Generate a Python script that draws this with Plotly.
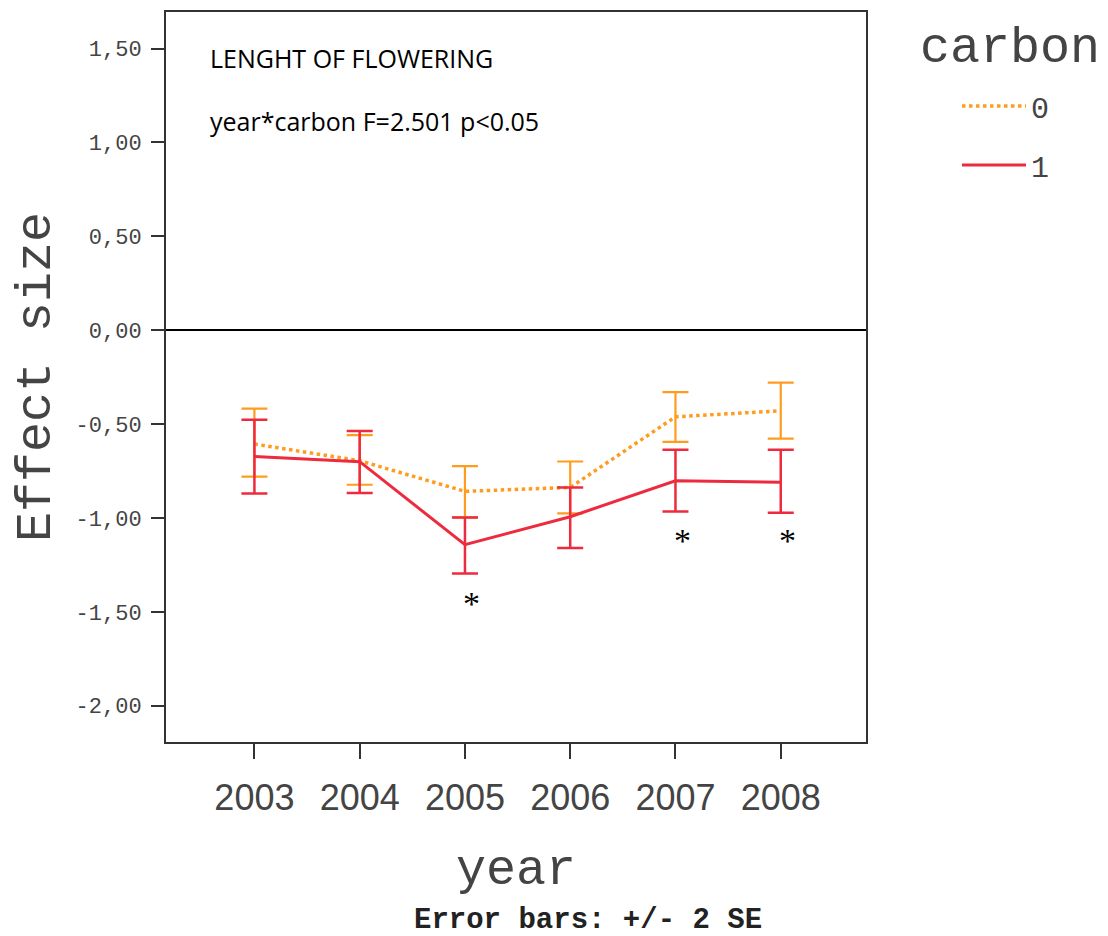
import plotly.graph_objects as go

years = ["2003", "2004", "2005", "2006", "2007", "2008"]
xpos = list(range(len(years)))

# carbon = 0 (orange, dotted)
c0_mean = [-0.606, -0.695, -0.858, -0.837, -0.461, -0.429]
c0_upper = [-0.417, -0.559, -0.724, -0.699, -0.330, -0.279]
c0_lower = [-0.780, -0.823, -0.997, -0.975, -0.594, -0.577]

# carbon = 1 (red, solid)
c1_mean = [-0.672, -0.700, -1.142, -0.993, -0.802, -0.810]
c1_upper = [-0.477, -0.536, -0.997, -0.837, -0.637, -0.637]
c1_lower = [-0.869, -0.867, -1.295, -1.160, -0.965, -0.972]

star_years = ["2005", "2007", "2008"]
star_y = [-1.449, -1.112, -1.112]

y_tickvals = [1.5, 1.0, 0.5, 0.0, -0.5, -1.0, -1.5, -2.0]
y_ticktext = ["1,50", "1,00", "0,50", "0,00", "-0,50", "-1,00", "-1,50", "-2,00"]

ORANGE = "#FF9C1F"
RED = "#EE2B3E"

fig = go.Figure()

fig.add_trace(go.Scatter(
    x=xpos, y=c0_mean, mode="lines", name="0",
    legendgroup="g0",
    line=dict(color=ORANGE, width=3.5, dash="dot"),
    error_y=dict(type="data", symmetric=False,
                 array=[u - m for u, m in zip(c0_upper, c0_mean)],
                 arrayminus=[m - l for m, l in zip(c0_mean, c0_lower)],
                 color=ORANGE, thickness=2.2, width=13),
))
fig.add_trace(go.Scatter(
    x=xpos, y=c1_mean, mode="lines", name="1",
    legendgroup="g1",
    line=dict(color=RED, width=3),
    error_y=dict(type="data", symmetric=False,
                 array=[u - m for u, m in zip(c1_upper, c1_mean)],
                 arrayminus=[m - l for m, l in zip(c1_mean, c1_lower)],
                 color=RED, thickness=2.5, width=13),
))

for sx, sy in zip(star_years, star_y):
    fig.add_annotation(x=years.index(sx), y=sy, text="*", showarrow=False, xshift=7, yshift=-1,
                       font=dict(family="Liberation Serif", size=34, color="black"))

fig.add_annotation(xref="paper", yref="paper", x=0.06, y=0.937, xanchor="left", yanchor="middle",
                   text="LENGHT OF FLOWERING", showarrow=False,
                   font=dict(family="Open Sans", size=25, color="black"))
fig.add_annotation(xref="paper", yref="paper", x=0.06, y=0.851, xanchor="left", yanchor="middle",
                   text="year*carbon F=2.501 p<0.05", showarrow=False,
                   font=dict(family="Open Sans", size=25, color="black"))

fig.add_annotation(xref="paper", yref="paper", x=1.074, y=0.95, xanchor="left", yanchor="middle",
                   text="carbon", showarrow=False,
                   font=dict(family="Liberation Mono", size=50, color="#444"))

fig.add_annotation(xref="paper", yref="paper", x=0.603, y=-0.244, xanchor="center", yanchor="middle",
                   text="<b>Error bars: +/- 2 SE</b>", showarrow=False,
                   font=dict(family="Liberation Mono", size=29, color="#222"))

fig.update_layout(
    width=1100, height=928,
    margin=dict(l=158, r=242, t=2, b=194),
    plot_bgcolor="white", paper_bgcolor="white",
    showlegend=True,
    legend=dict(x=1.13, y=0.907, xanchor="left", yanchor="top",
                font=dict(family="Liberation Mono", size=30, color="#444"),
                traceorder="grouped", tracegroupgap=17, itemwidth=64,
                bgcolor="rgba(0,0,0,0)"),
)

fig.update_xaxes(
    range=[-0.84, 5.81],
    tickvals=xpos, ticktext=years,
    showline=True, linecolor="#333", linewidth=2, mirror=True,
    ticks="outside", ticklen=15, tickwidth=2, tickcolor="#333",
    tickfont=dict(family="Liberation Sans", size=36, color="#444"),
    ticklabelstandoff=8,
    showgrid=False, zeroline=False,
    title=dict(text="year", font=dict(family="Liberation Mono", size=50, color="#444"), standoff=32),
)
fig.update_yaxes(
    range=[-2.193, 1.695],
    tickvals=y_tickvals, ticktext=y_ticktext,
    showline=True, linecolor="#333", linewidth=2, mirror=True,
    ticks="outside", ticklen=13, tickwidth=2, tickcolor="#333",
    tickfont=dict(family="Liberation Mono", size=22, color="#444"),
    ticklabelstandoff=5,
    showgrid=False,
    zeroline=True, zerolinecolor="black", zerolinewidth=2,
    title=dict(text="Effect size", font=dict(family="Liberation Mono", size=50, color="#444"), standoff=10),
)

fig.write_html("out.html")
